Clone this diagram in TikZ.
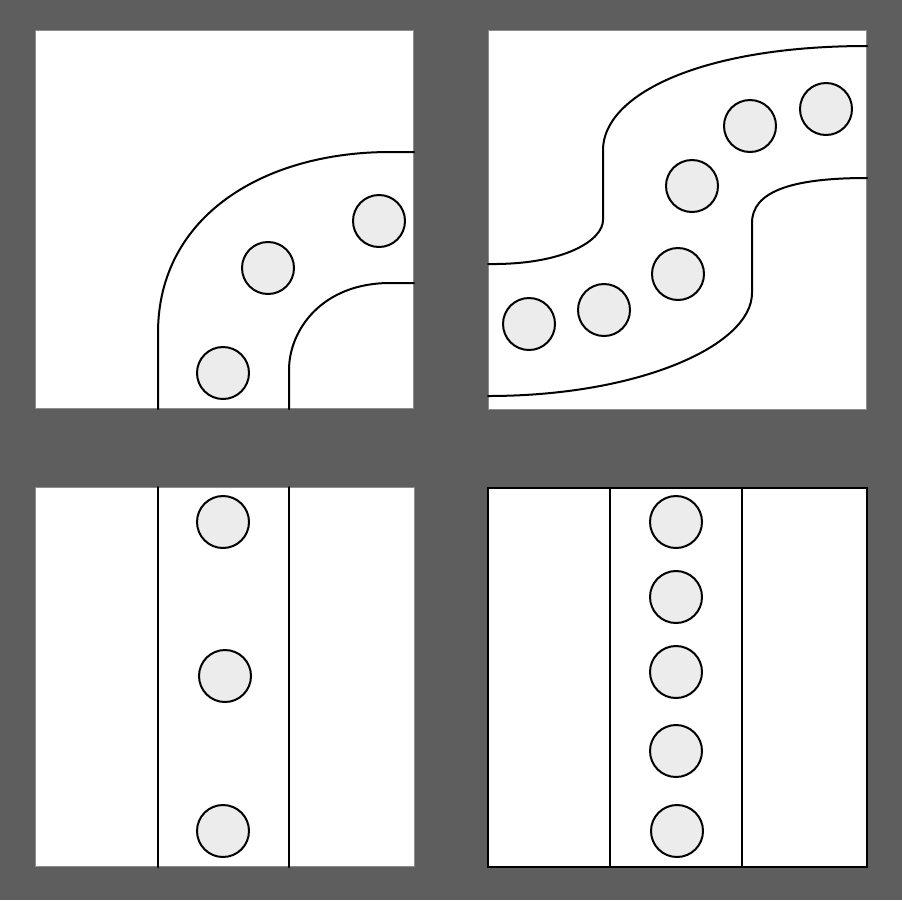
\documentclass[tikz,border=0pt]{standalone}
\usepackage{tikz}
\usetikzlibrary{positioning}

\definecolor{bgdark}{HTML}{5E5E5E}
\definecolor{panelgray}{HTML}{8C8C8C}
\definecolor{ballgray}{HTML}{ECECEC}

\begin{document}
\begin{tikzpicture}[
    x=0.75pt, y=-0.75pt,
    panel/.style={rectangle, draw=panelgray, line width=0.8pt, fill=white,
                  minimum width=284pt, minimum height=284pt, inner sep=0pt},
    ball/.style={circle, draw, line width=1.5pt, fill=ballgray,
                 minimum size=39pt, inner sep=0pt},
    wall/.style={line width=1.5pt, line cap=round}
]
\useasboundingbox (0,0) rectangle (902,900);
\fill[bgdark] (0,0) rectangle (902,900);

\node[panel] (bend)   at (224.5,219.5) {};
\node[panel] (snake)  at (677.5,220)   {};
\node[panel] (sparse) at (225,677)     {};
\node[panel, draw=black, line width=1.1pt] (dense) at (677.5,677.5) {};

% quarter bend
\draw[wall] (158,409) -- (158,333) .. controls (158,215) and (265,152) .. (390,152) -- (414,152);
\draw[wall] (289,409) -- (289,370) .. controls (289,330) and (322,283) .. (390,283) -- (414,283);

% s-bend
\draw[wall] (488,264) .. controls (565,265) and (603,240) .. (603,220) -- (603,150)
            .. controls (603,95) and (700,46) .. (867,46);
\draw[wall] (488,396) .. controls (640,396) and (752,345) .. (752,293) -- (752,223)
            .. controls (752,192) and (790,178) .. (867,178);

% straight channels
\foreach \x in {158, 289}
    \draw[wall] (\x,487) -- (\x,867);
\foreach \x in {610, 742}
    \draw[wall] (\x,488) -- (\x,867);

\foreach \n/\x/\y in {1/223/373, 2/268/268, 3/379/221}
    \node[ball] (b\n) at (\x,\y) {};
\foreach \n/\x/\y in {1/529/324, 2/604/310, 3/678/274, 4/692/186, 5/750/126, 6/826/109}
    \node[ball] (s\n) at (\x,\y) {};
\foreach \n/\x/\y in {1/223/522, 2/225/676, 3/223/831}
    \node[ball] (p\n) at (\x,\y) {};
\foreach \n/\x/\y in {1/676/522, 2/676/597, 3/676/672, 4/676/751, 5/677/831}
    \node[ball] (d\n) at (\x,\y) {};
\end{tikzpicture}
\end{document}
